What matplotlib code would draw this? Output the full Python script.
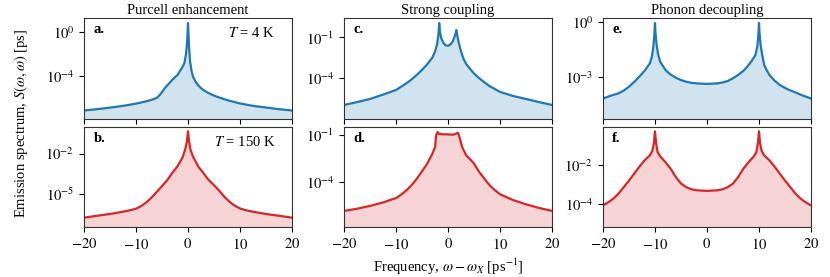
import matplotlib
matplotlib.use("Agg")
import matplotlib.pyplot as plt
import numpy as np

plt.rcParams['font.family'] = ['Liberation Serif', 'DejaVu Serif']
plt.rcParams['mathtext.fontset'] = 'stix'
plt.rcParams['font.size'] = 10

BLUE = '#1f77b4'
RED = '#d62728'

titles = ['Purcell enhancement', 'Strong coupling', 'Phonon decoupling']
panel_labels = ['a.', 'b.', 'c.', 'd.', 'e.', 'f.']

# spectra, as log10 S(w, w)
x_a = [-20, -17.5, -15, -12.5, -10, -8, -7, -6, -5.5, -5, -4.5, -4, -3, -2, -1.5, -1,
       -0.7, -0.4, -0.2, -0.1, 0, 0.1, 0.2, 0.4, 0.7, 1, 1.5, 2, 2.5, 3, 4, 5, 6, 7,
       8, 10, 12.5, 15, 17.5, 20]
logS_a = [-7.12, -7.0, -6.86, -6.7, -6.5, -6.28, -6.15, -5.98, -5.75, -5.45, -5.12,
          -4.85, -4.33, -3.88, -3.5, -3.12, -2.82, -2.06, -1.15, -0.24, 0.82, -0.24,
          -1.3, -2.67, -3.58, -4.09, -4.55, -4.85, -5.09, -5.28, -5.55, -5.77, -5.94,
          -6.1, -6.24, -6.48, -6.7, -6.85, -7.0, -7.12]

x_b = [-20, -17.5, -15, -12.5, -11, -10, -9, -8, -7, -6, -5, -4, -3, -2, -1, -0.5,
       -0.2, 0, 0.2, 0.5, 1, 2, 3, 4, 5, 6, 7, 8, 9, 10, 11, 12.5, 15, 17.5, 20]
logS_b = [-6.74, -6.6, -6.47, -6.3, -6.18, -6.08, -5.88, -5.61, -5.25, -4.83, -4.41,
          -3.97, -3.42, -2.93, -2.25, -1.63, -1.1, -0.35, -1.1, -1.75, -2.25, -2.98,
          -3.47, -3.97, -4.34, -4.75, -5.2, -5.57, -5.86, -6.06, -6.18, -6.3, -6.47,
          -6.6, -6.74]

x_c = [-20, -17.5, -15, -12.5, -10, -8, -7, -6, -5, -4, -3, -2.5, -2.1, -1.85, -1.7,
       -1.55, -1.3, -0.9, -0.5, 0, 0.5, 0.9, 1.2, 1.45, 1.6, 1.75, 2.0, 2.5, 3, 3.5, 4,
       5, 6, 7, 8, 10, 12.5, 15, 17.5, 20]
logS_c = [-5.96, -5.75, -5.52, -5.2, -4.86, -4.37, -4.08, -3.75, -3.38, -2.97, -2.47,
          -2.03, -1.5, -0.8, 0.06, -0.6, -1.05, -1.4, -1.57, -1.61, -1.5, -1.3, -1.0,
          -0.7, -0.46, -0.8, -1.3, -2.03, -2.6, -2.95, -3.2, -3.65, -4.0, -4.3, -4.58,
          -5.0, -5.3, -5.52, -5.75, -5.96]

x_d = [-20, -17.5, -15, -12.5, -10, -9, -8, -7, -6, -5, -4, -3, -2.5, -2.3, -2.0, -1.7,
       -1.2, 0, 1, 1.6, 1.9, 2.2, 2.7, 3.5, 4.5, 5, 6, 7, 8, 9, 10, 12.5, 15, 17.5, 20]
logS_d = [-5.84, -5.7, -5.52, -5.3, -5.02, -4.8, -4.53, -4.2, -3.79, -3.32, -2.84, -2.2,
          -1.78, -1.05, -0.83, -0.95, -0.97, -0.98, -1.0, -0.92, -0.88, -1.15, -1.78,
          -2.31, -2.65, -2.84, -3.37, -3.8, -4.21, -4.52, -4.78, -5.15, -5.42, -5.65,
          -5.84]

x_e = [-20, -18.5, -17, -16, -15, -14, -13, -12, -11.5, -11, -10.6, -10.3, -10.1, -10,
       -9.9, -9.7, -9.4, -9, -8, -7, -6, -5, -4, -3, -2, 0, 2, 3, 4, 5, 6, 7, 7.5, 8.5,
       9.3, 9.7, 9.9, 10, 10.1, 10.3, 10.6, 11, 11.5, 12, 13, 14, 15.5, 17, 18.5, 20]
logS_e = [-4.15, -4.0, -3.87, -3.72, -3.51, -3.25, -2.96, -2.65, -2.45, -2.24, -1.9,
          -1.3, -0.6, -0.05, -0.6, -1.2, -1.75, -2.15, -2.6, -2.85, -3.02, -3.15, -3.24,
          -3.3, -3.33, -3.36, -3.33, -3.28, -3.2, -3.05, -2.87, -2.65, -2.5, -2.15, -1.8,
          -1.3, -0.6, -0.05, -0.6, -1.2, -1.75, -2.33, -2.62, -2.87, -3.18, -3.42, -3.65,
          -3.82, -4.0, -4.15]

x_f = [-20, -19, -18, -17, -16, -15, -14, -13, -12, -11, -10.5, -10.2, -10, -9.8, -9.5,
       -9, -8, -7, -6, -5, -4, -3, -2, 0, 2, 3, 4, 5, 6, 7, 8, 9, 9.5, 9.8, 10, 10.2,
       10.5, 11, 12, 13, 14, 15, 16, 17, 18, 19, 20]
logS_f = [-4.05, -3.9, -3.71, -3.45, -3.13, -2.8, -2.45, -2.1, -1.78, -1.53, -1.3, -0.9,
          -0.32, -0.9, -1.36, -1.58, -1.87, -2.2, -2.62, -2.95, -3.13, -3.24, -3.29,
          -3.32, -3.29, -3.24, -3.13, -2.95, -2.62, -2.2, -1.87, -1.58, -1.36, -0.9,
          -0.32, -0.9, -1.3, -1.53, -1.78, -2.1, -2.45, -2.8, -3.13, -3.45, -3.71, -3.9,
          -4.05]

spectra = [(x_a, logS_a), (x_b, logS_b), (x_c, logS_c),
           (x_d, logS_d), (x_e, logS_e), (x_f, logS_f)]
ylims = [(-7.9, 1.27), (-7.43, -0.04), (-7.0, 0.43),
         (-6.86, -0.51), (-5.27, 0.22), (-5.14, -0.1)]
yticks = [(-4, 0), (-5, -2), (-4, -1), (-4, -1), (-3, 0), (-4, -2)]

fig = plt.figure(figsize=(8.3, 2.77), dpi=100)
lefts = [0.1012, 0.4145, 0.7265]
w = 0.2506
bottoms = [0.570, 0.1805]
heights = [0.365, 0.361]

for col in range(3):
    for row in range(2):
        i = col * 2 + row
        ax = fig.add_axes([lefts[col], bottoms[row], w, heights[row]])
        x, ls = spectra[i]
        y = 10.0 ** np.array(ls)
        color = BLUE if row == 0 else RED
        lo, hi = ylims[i]
        ax.set_yscale('log')
        ax.fill_between(x, y, 10.0 ** (lo - 1), color=color, alpha=0.2, linewidth=0)
        ax.plot(x, y, color=color, lw=1.6, solid_joinstyle='round')
        ax.set_xlim(-20, 20)
        ax.set_ylim(10.0 ** lo, 10.0 ** hi)
        ax.set_xticks([-20, -10, 0, 10, 20])
        if row == 0:
            ax.set_xticklabels([])
        else:
            ax.set_xticklabels(['$-20$', '$-10$', '$0$', '$10$', '$20$'])
        ax.set_yticks([10.0 ** t for t in yticks[i]])
        ax.set_yticklabels(['$10^{%d}$' % t for t in yticks[i]])
        ax.minorticks_off()
        ax.tick_params(labelsize=10.5, length=3.5, width=0.8)
        for sp in ax.spines.values():
            sp.set_linewidth(0.8)
            sp.set_color('#333333')
        ax.text(0.045, 0.89, panel_labels[i], transform=ax.transAxes,
                fontweight='bold', va='center', ha='left', fontsize=10.5)
        if row == 0:
            ax.set_title(titles[col], fontsize=10.5, pad=3)
        if col == 0:
            label = '$T$ = 4 K' if row == 0 else '$T$ = 150 K'
            ax.text(0.92, 0.85, label, transform=ax.transAxes,
                    ha='right', va='center', fontsize=10.5)

fig.text(0.025, 0.555, r'Emission spectrum, $S(\omega,\omega)$ [ps]',
         rotation=90, ha='center', va='center', fontsize=10.5)
fig.text(0.54, 0.035, r'Frequency, $\omega-\omega_X$ [ps$^{-1}$]',
         ha='center', va='center', fontsize=10.5)

fig.savefig('out.png', dpi=100)
